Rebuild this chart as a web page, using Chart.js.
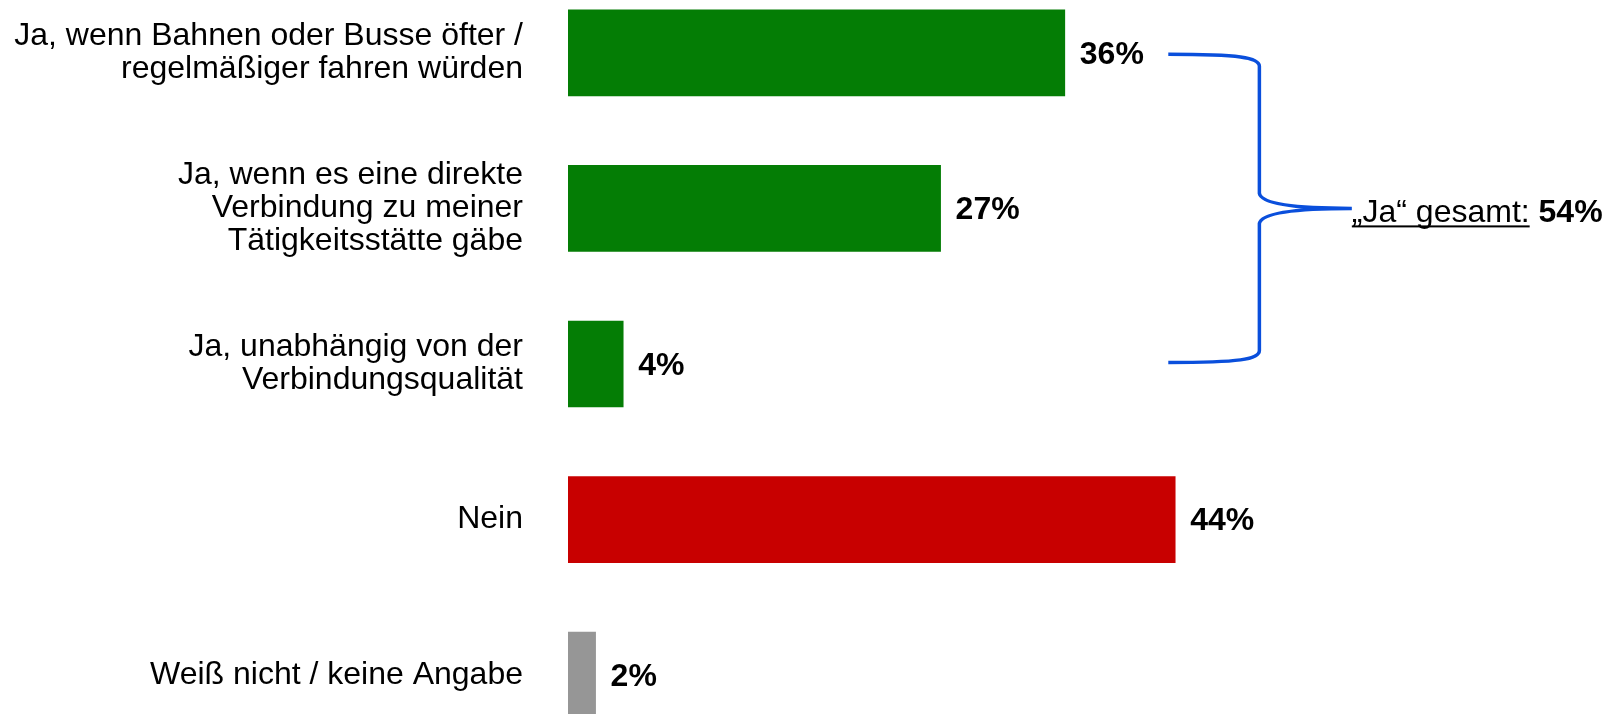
<!DOCTYPE html>
<html>
<head>
<meta charset="utf-8">
<script src="https://cdn.jsdelivr.net/npm/chart.js@4"></script>
<style>
  html, body { margin: 0; padding: 0; background: #fff; overflow: hidden; }
  #wrap { position: relative; width: 1608px; height: 714px; overflow: hidden; }
  #chart { position: absolute; left: 0; top: -25px; }
</style>
</head>
<body>
<div id="wrap"><canvas id="chart" width="1608" height="778"></canvas></div>
<script>
// Daten
const kategorien = [
    ['Ja, wenn Bahnen oder Busse öfter /', 'regelmäßiger fahren würden'],
    ['Ja, wenn es eine direkte', 'Verbindung zu meiner', 'Tätigkeitsstätte gäbe'],
    ['Ja, unabhängig von der', 'Verbindungsqualität'],
    'Nein',
    'Weiß nicht / keine Angabe'
];
const werte = [36, 27, 4, 44, 2];
const farben = ['#047d05', '#047d05', '#047d05', '#c80000', '#969696'];
const jaGesamt = 54;

const schrift = '"Liberation Sans", Arial, sans-serif';

// Prozentwerte neben den Balken
const wertLabels = {
    id: 'wertLabels',
    afterDatasetsDraw(chart) {
        const ctx = chart.ctx;
        const meta = chart.getDatasetMeta(0);
        ctx.save();
        ctx.font = 'bold 32px ' + schrift;
        ctx.fillStyle = '#000';
        ctx.textAlign = 'left';
        ctx.textBaseline = 'middle';
        meta.data.forEach((bar, i) => {
            ctx.fillText(werte[i] + '%', bar.x + 15, bar.y + 2);
        });
        ctx.restore();
    }
};

// Klammer für "Ja" gesamt
const klammer = {
    id: 'klammer',
    afterDraw(chart) {
        const ctx = chart.ctx;
        const x = chart.scales.x;
        const y = chart.scales.y;
        const top = y.getPixelForValue(0) + 1.5;
        const bottom = y.getPixelForValue(2) - 1.5;
        const mid = (top + bottom) / 2;
        const x0 = x.getPixelForValue(43.5);
        const xv = x.getPixelForValue(50.1);
        const xt = x.getPixelForValue(56.8);

        ctx.save();
        ctx.strokeStyle = '#0a4fdc';
        ctx.lineWidth = 3.5;
        ctx.beginPath();
        ctx.moveTo(x0, top);
        ctx.bezierCurveTo(xv - 20, top, xv, top + 3, xv, top + 12);
        ctx.lineTo(xv, mid - 15);
        ctx.bezierCurveTo(xv + 2, mid - 4, xv + 40, mid, xt, mid);
        ctx.bezierCurveTo(xv + 40, mid, xv + 2, mid + 4, xv, mid + 15);
        ctx.lineTo(xv, bottom - 12);
        ctx.bezierCurveTo(xv, bottom - 3, xv - 20, bottom, x0, bottom);
        ctx.stroke();

        // Text
        const base = mid + 14;
        ctx.fillStyle = '#000';
        ctx.textAlign = 'left';
        ctx.textBaseline = 'alphabetic';
        ctx.font = '32px ' + schrift;
        const t1 = '\u201EJa\u201C gesamt:';
        ctx.fillText(t1, xt, base);
        const w1 = ctx.measureText(t1).width;
        ctx.fillRect(xt, base + 3, w1, 2);
        ctx.fillText(' ', xt + w1, base);
        const ws = ctx.measureText(' ').width;
        ctx.font = 'bold 32px ' + schrift;
        ctx.fillText(jaGesamt + '%', xt + w1 + ws, base);
        ctx.restore();
    }
};

const ctx = document.getElementById('chart').getContext('2d');
new Chart(ctx, {
    type: 'bar',
    data: {
        labels: kategorien,
        datasets: [{
            data: werte,
            backgroundColor: farben,
            borderWidth: 0,
            barThickness: 86,
            categoryPercentage: 1
        }]
    },
    options: {
        indexAxis: 'y',
        responsive: false,
        animation: false,
        layout: { padding: { left: 0, right: 5, top: 0, bottom: 0 } },
        plugins: {
            legend: { display: false },
            tooltip: { enabled: false }
        },
        scales: {
            x: {
                display: false,
                min: 0,
                max: 75
            },
            y: {
                grid: { display: false, drawTicks: false },
                border: { display: false },
                afterFit(scale) {
                    scale.width = 568;
                    scale.paddingTop = 0;
                    scale.paddingBottom = 0;
                },
                ticks: {
                    color: '#000',
                    padding: 45,
                    font: { family: schrift, size: 32, lineHeight: 1.03 }
                }
            }
        }
    },
    plugins: [wertLabels, klammer]
});
</script>
</body>
</html>
